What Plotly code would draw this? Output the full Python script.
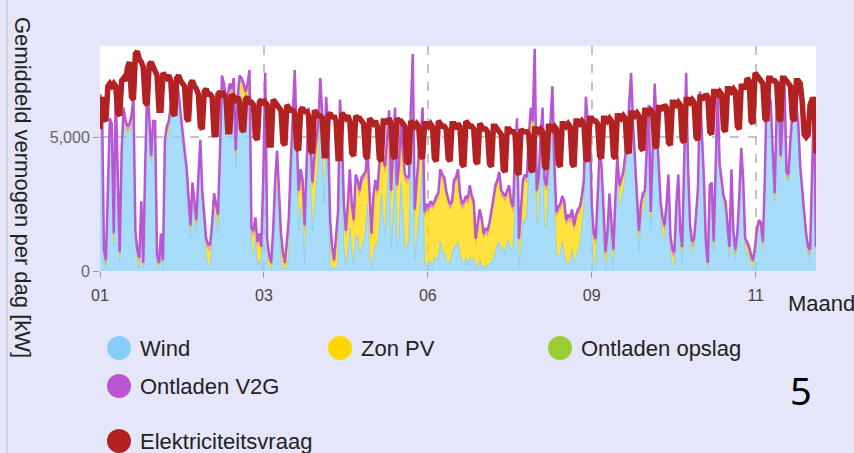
import plotly.graph_objects as go

# ---------------- data (daily averages, kW) ----------------
dagen = list(range(365))

wind = [
    # jan
    6300, 6100, 400, 100, 2700, 5400, 5100, 900, 6400, 3200,
    300, 4200, 5800, 5200, 5100, 5200, 5400, 6200, 1000, 300,
    100, 2300, 100, 3700, 6500, 5400, 4000, 5200, 5300, 200, 100,
    # feb
    900, 100, 4500, 5000, 5100, 5800, 6400, 6500, 6800, 6200,
    5300, 4600, 4100, 3400, 2000, 1200, 2800, 1900, 1400, 3000,
    4500, 2400, 1300, 500, 200, 200, 1100, 2300,
    # mrt
    1900, 1400, 3900, 6800, 6400, 5600, 5900, 6400, 6100, 6700,
    3900, 5800, 6700, 6400, 6300, 6100, 6200, 7000, 800, 600,
    1200, 200, 400, 100, 2800, 6800, 300, 100, 100, 500, 2200,
    # apr
    3100, 1800, 300, 100, 100, 100, 600, 2900, 5000, 6700,
    3700, 1500, 2400, 1800, 300, 2300, 4900, 3400, 1500, 2300,
    3200, 4100, 6100, 4000, 2500, 5100, 3200, 200, 100, 100,
    # mei
    100, 300, 4700, 3000, 900, 200, 600, 1600, 700, 200,
    1300, 1300, 600, 900, 1100, 1500, 2500, 600, 100, 600,
    1000, 900, 1500, 2900, 1900, 1300, 3000, 4300, 800, 2000, 4300,
    # jun
    800, 1300, 3300, 2100, 800, 900, 1100, 4000, 6700, 400,
    1100, 1600, 2500, 4000, 200, 200, 300, 400, 100, 500,
    500, 400, 1100, 700, 700, 400, 300, 300, 600, 900,
    # jul
    900, 1100, 600, 400, 200, 500, 200, 500, 400, 500,
    100, 200, 400, 200, 100, 200, 200, 300, 300, 500,
    700, 1000, 1100, 700, 900, 600, 1100, 1100, 800, 800, 2700,
    # aug
    4300, 100, 800, 1900, 1800, 2100, 3800, 4500, 4200, 7200,
    1800, 2000, 3700, 4700, 1700, 1600, 3000, 4200, 5800, 2500,
    600, 600, 600, 1100, 600, 300, 300, 300, 800, 300, 500,
    # sep
    800, 1000, 1600, 2300, 5800, 4700, 4500, 1400, 200, 100,
    1800, 3700, 3000, 800, 100, 500, 2000, 700, 100, 1900,
    3600, 2400, 2600, 3000, 3500, 4300, 5700, 6800, 4800, 3300,
    # okt
    2100, 700, 1900, 2200, 2400, 4100, 5700, 1500, 3900, 6500,
    4900, 3400, 2000, 1300, 1100, 2000, 3100, 600, 200, 200,
    2000, 3200, 1000, 300, 4100, 7000, 3300, 1200, 600, 800, 1700,
    # nov
    2700, 6400, 4600, 3100, 600, 100, 2800, 3000, 700, 3200,
    6400, 3600, 3100, 2400, 2200, 1200, 500, 3500, 1100, 400,
    1100, 2500, 4300, 3100, 800, 700, 500, 200, 100, 600,
    # dec
    1300, 1600, 1500, 800, 3200, 6700, 6300, 6000, 4200, 2600,
    5700, 6800, 4000, 5500, 6700, 3400, 3300, 4600, 5700, 6600,
    5900, 5200, 3600, 2600, 1900, 1100, 600, 500, 3200, 6200, 600,
]

zon_pv = [
    # jan
    100, 100, 200, 100, 100, 100, 200, 200, 100, 100,
    200, 100, 100, 200, 100, 100, 200, 100, 200, 300,
    200, 100, 100, 100, 100, 200, 100, 200, 100, 200, 100,
    # feb
    300, 200, 200, 200, 300, 200, 200, 300, 200, 200,
    300, 300, 200, 300, 400, 300, 300, 400, 300, 300,
    200, 400, 400, 500, 600, 600, 500, 400,
    # mrt
    400, 500, 400, 300, 400, 600, 500, 400, 500, 300,
    400, 500, 400, 600, 500, 400, 600, 300, 600, 700,
    600, 700, 800, 600, 500, 400, 700, 400, 100, 800, 900,
    # apr
    1200, 1000, 900, 400, 100, 800, 1200, 1000, 800, 600,
    1100, 1300, 1200, 1400, 1200, 1500, 1000, 1400, 1600, 1800,
    1500, 1200, 900, 1300, 1700, 1200, 1600, 1500, 600, 200,
    # mei
    1200, 1700, 1500, 1800, 1400, 1100, 1700, 2000, 1600, 1500,
    2100, 1900, 2200, 2400, 2300, 2000, 1800, 2200, 1100, 2000,
    2200, 1900, 2300, 1800, 2100, 2400, 1800, 1500, 2000, 2300, 1600,
    # jun
    2200, 2500, 2000, 2300, 2600, 2400, 2200, 1800, 1200, 1700,
    2200, 2500, 2300, 1900, 1800, 2100, 1900, 2000, 2200, 1900,
    2100, 2300, 2500, 2700, 2600, 2400, 2200, 2000, 1800, 2300,
    # jul
    2400, 2500, 2100, 1900, 2200, 2100, 2300, 2500, 2200, 1900,
    900, 1400, 1700, 1600, 1100, 1200, 1100, 1300, 1700, 2000,
    2300, 2200, 2400, 2100, 1800, 2000, 1700, 1900, 1600, 1400, 1600,
    # aug
    1200, 900, 1500, 1300, 1600, 1200, 1000, 1400, 1200, 900,
    1000, 1300, 1100, 1200, 1500, 1400, 1000, 1100, 900, 1300,
    1400, 1600, 1700, 1500, 1800, 1400, 1600, 1500, 1300, 1200, 1400,
    # sep
    1300, 1200, 1000, 900, 500, 600, 700, 900, 1000, 900,
    800, 600, 700, 1000, 400, 800, 700, 900, 500, 600,
    500, 600, 700, 500, 600, 400, 300, 400, 500, 400,
    # okt
    500, 600, 400, 500, 400, 300, 300, 500, 400, 300,
    300, 400, 400, 500, 400, 300, 300, 500, 400, 300,
    300, 200, 300, 400, 200, 200, 300, 300, 300, 200, 200,
    # nov
    200, 100, 200, 200, 300, 100, 200, 100, 200, 100,
    100, 200, 100, 200, 200, 200, 200, 100, 200, 200,
    100, 100, 100, 100, 200, 200, 200, 200, 200, 100,
    # dec
    100, 100, 100, 100, 100, 100, 100, 100, 100, 100,
    100, 100, 100, 100, 100, 100, 100, 100, 100, 100,
    100, 100, 100, 100, 100, 100, 100, 100, 100, 100, 100,
]

ontladen_opslag = [0] * 365

ontladen_v2g = [
    # jan
    200, 200, 200, 200, 200, 200, 200, 300, 200, 200,
    200, 200, 200, 200, 200, 200, 200, 200, 300, 200,
    200, 200, 100, 200, 200, 200, 200, 200, 200, 200, 100,
    # feb
    200, 100, 200, 200, 200, 200, 200, 200, 200, 200,
    200, 200, 200, 200, 200, 200, 200, 200, 200, 200,
    200, 200, 200, 200, 200, 200, 200, 200,
    # mrt
    200, 200, 200, 200, 200, 200, 200, 200, 200, 200,
    200, 200, 200, 200, 200, 200, 200, 200, 200, 200,
    200, 200, 200, 200, 200, 200, 200, 100, 100, 200, 200,
    # apr
    200, 200, 200, 200, 100, 200, 200, 200, 200, 200,
    200, 200, 200, 200, 200, 200, 200, 200, 200, 200,
    200, 200, 200, 200, 200, 200, 200, 200, 200, 100,
    # mei
    200, 200, 200, 200, 200, 200, 200, 200, 200, 200,
    200, 200, 200, 200, 200, 200, 200, 200, 200, 200,
    200, 200, 200, 200, 200, 200, 200, 200, 200, 200, 200,
    # jun
    200, 200, 200, 200, 200, 200, 200, 200, 200, 200,
    200, 200, 200, 200, 200, 200, 200, 200, 200, 200,
    200, 200, 200, 200, 200, 200, 200, 200, 200, 200,
    # jul
    200, 200, 200, 200, 200, 200, 200, 200, 200, 200,
    200, 200, 200, 200, 200, 200, 200, 200, 200, 200,
    200, 200, 200, 200, 200, 200, 200, 200, 200, 200, 200,
    # aug
    200, 200, 200, 200, 200, 200, 200, 200, 200, 200,
    200, 200, 200, 200, 200, 200, 200, 200, 200, 200,
    200, 200, 200, 200, 200, 200, 200, 200, 200, 200, 200,
    # sep
    200, 200, 200, 200, 200, 200, 200, 200, 200, 200,
    200, 200, 200, 200, 200, 200, 200, 200, 200, 200,
    200, 200, 200, 200, 200, 200, 200, 200, 200, 200,
    # okt
    200, 200, 200, 200, 200, 200, 200, 200, 200, 200,
    200, 200, 200, 200, 200, 200, 200, 200, 200, 200,
    200, 200, 200, 200, 200, 200, 200, 200, 200, 200, 200,
    # nov
    200, 200, 200, 200, 200, 100, 200, 200, 200, 200,
    200, 200, 200, 200, 200, 200, 200, 200, 200, 200,
    200, 200, 200, 200, 200, 200, 200, 200, 100, 200,
    # dec
    200, 200, 200, 200, 200, 200, 200, 200, 200, 200,
    200, 200, 200, 200, 200, 200, 200, 200, 200, 200,
    200, 200, 200, 200, 200, 200, 200, 200, 200, 200, 200,
]

elektriciteitsvraag = [
    5300, 6500, 5700, 5600, 6900, 7000, 6900,
    7000, 6900, 5900, 5800, 7100, 7200, 7100,
    7600, 7800, 6500, 6400, 8100, 8200, 7900,
    7800, 7600, 6300, 6200, 7700, 7800, 7600,
    7500, 7300, 6000, 6000, 7400, 7300, 7200,
    7300, 7100, 5900, 5800, 7200, 7300, 7100,
    7000, 6900, 5700, 5600, 7000, 7100, 6900,
    6800, 6600, 5400, 5300, 6700, 6800, 6600,
    6600, 6500, 5100, 5100, 6600, 6700, 6500,
    6600, 6500, 5200, 5200, 6600, 6500, 6400,
    6500, 6300, 5300, 5200, 6400, 6500, 6300,
    6300, 6200, 5000, 4900, 6300, 6400, 6200,
    6300, 6200, 4700, 4700, 6400, 6300, 6200,
    6100, 6000, 4800, 4700, 6200, 6100, 6000,
    6000, 5900, 4600, 4500, 6000, 6100, 5900,
    6000, 5800, 4500, 4400, 6000, 5900, 5800,
    5800, 5700, 4300, 4300, 5800, 5900, 5700,
    5800, 5600, 4200, 4200, 5900, 5800, 5700,
    5800, 5600, 4400, 4300, 5800, 5700, 5700,
    5600, 5500, 4300, 4200, 5700, 5600, 5500,
    5600, 5400, 4200, 4100, 5600, 5600, 5500,
    5700, 5500, 4300, 4200, 5700, 5600, 5600,
    5500, 5400, 4100, 4000, 5600, 5500, 5400,
    5500, 5400, 4300, 4200, 5500, 5500, 5400,
    5500, 5400, 4200, 4100, 5600, 5500, 5400,
    5400, 5300, 4200, 4100, 5500, 5500, 5300,
    5500, 5400, 4000, 3900, 5600, 5500, 5400,
    5400, 5300, 4100, 4000, 5500, 5400, 5300,
    5300, 5200, 4000, 3900, 5400, 5400, 5300,
    5200, 5100, 3800, 3700, 5300, 5300, 5200,
    5200, 5100, 3700, 3600, 5300, 5200, 5200,
    5200, 5100, 3800, 3700, 5300, 5300, 5200,
    5300, 5200, 3900, 3800, 5400, 5400, 5300,
    5400, 5300, 4000, 3900, 5500, 5500, 5400,
    5500, 5400, 4000, 3900, 5600, 5600, 5500,
    5600, 5500, 4200, 4100, 5700, 5700, 5600,
    5600, 5500, 4300, 4200, 5700, 5700, 5600,
    5700, 5600, 4300, 4200, 5800, 5800, 5700,
    5800, 5700, 4500, 4400, 5900, 5900, 5800,
    5900, 5800, 4600, 4500, 6000, 6000, 5900,
    6000, 5900, 4700, 4600, 6100, 6100, 6000,
    6200, 6100, 4800, 4700, 6300, 6300, 6200,
    6300, 6200, 4900, 4800, 6400, 6400, 6300,
    6400, 6300, 5000, 4900, 6500, 6500, 6400,
    6600, 6500, 5200, 5100, 6700, 6700, 6600,
    6700, 6600, 5300, 5200, 6800, 6800, 6700,
    6800, 6700, 5400, 5300, 6900, 6900, 6800,
    7200, 7100, 5600, 5500, 7400, 7300, 7200,
    7100, 7000, 5700, 5600, 7200, 7200, 7100,
    7100, 7000, 5700, 5600, 7200, 7200, 7100,
    7000, 6900, 5700, 5600, 7100, 7100, 7000,
    6300, 5100, 5000, 5100, 6200, 6400, 6400,
    4400,
]

maand_tick_uren = [0, 2000, 4000, 6000, 8000]
maand_labels = ["01", "03", "06", "09", "11"]
y_ticks = [0, 5000]

legend_namen = ["Wind", "Zon PV", "Ontladen opslag", "Ontladen V2G", "Elektriciteitsvraag"]
legend_kleuren = ["#87CEFA", "#FFD700", "#9ACD32", "#BA55D3", "#B22222"]

# ---------------- figure ----------------
W, H = 854, 453
L, R, T, B = 100, 38, 46, 182
PW, PH = W - L - R, H - T - B


def px(x):
    return (x - L) / PW


def py(y):
    return (H - B - y) / PH


fig = go.Figure()

fig.add_trace(go.Scatter(x=dagen, y=wind, name="Wind", stackgroup="aanbod", mode="lines",
                         line=dict(color="rgba(135,206,250,0.9)", width=1),
                         fillcolor="rgba(135,206,250,0.72)"))
fig.add_trace(go.Scatter(x=dagen, y=zon_pv, name="Zon PV", stackgroup="aanbod", mode="lines",
                         line=dict(color="rgba(255,215,0,0.9)", width=1),
                         fillcolor="rgba(255,215,0,0.75)"))
fig.add_trace(go.Scatter(x=dagen, y=ontladen_opslag, name="Ontladen opslag", stackgroup="aanbod",
                         mode="lines", line=dict(color="#9ACD32", width=0),
                         fillcolor="rgba(154,205,50,0.7)"))
fig.add_trace(go.Scatter(x=dagen, y=ontladen_v2g, name="Ontladen V2G", stackgroup="aanbod",
                         mode="lines", line=dict(color="#BA55D3", width=2.5),
                         fillcolor="rgba(186,85,211,0.55)"))
fig.add_trace(go.Scatter(x=dagen, y=elektriciteitsvraag, name="Elektriciteitsvraag", mode="lines",
                         line=dict(color="#B22222", width=5.5)))

fig.update_layout(
    width=W, height=H,
    margin=dict(l=L, r=R, t=T, b=B, autoexpand=False),
    paper_bgcolor="#E6E6FA",
    plot_bgcolor="white",
    showlegend=False,
    font=dict(family="Liberation Sans, Arial, sans-serif", color="#222"),
)

fig.update_xaxes(
    range=[0, 364],
    tickvals=[u / 24 for u in maand_tick_uren],
    ticktext=maand_labels,
    ticks="outside", ticklen=6, tickcolor="#999",
    ticklabelstandoff=4,
    tickfont=dict(size=16, color="#444"),
    showgrid=True, gridcolor="#c4c4c4", griddash="dash", gridwidth=1.5,
    zeroline=False, showline=False,
)
fig.update_yaxes(
    range=[0, 8400],
    tickvals=y_ticks,
    tickformat=",",
    ticks="outside", ticklen=6, tickcolor="#999",
    tickfont=dict(size=16, color="#666"),
    showgrid=True, gridcolor="#c4c4c4", griddash="dash", gridwidth=1.5,
    zeroline=False, showline=False,
)

annotations = []
shapes = []

# left thin border line
shapes.append(dict(type="line", xref="paper", yref="paper",
                   x0=px(7), x1=px(7), y0=py(0), y1=py(H),
                   line=dict(color="#c8c8d4", width=1.5)))

# y-axis title (rotated clockwise)
annotations.append(dict(text="Gemiddeld vermogen per dag [kW]", xref="paper", yref="paper",
                        x=px(23), y=py(187), textangle=90, showarrow=False,
                        xanchor="center", yanchor="middle",
                        font=dict(size=22, color="#222")))
# x-axis title
annotations.append(dict(text="Maand", xref="paper", yref="paper",
                        x=px(786), y=py(303), showarrow=False,
                        xanchor="left", yanchor="middle",
                        font=dict(size=22, color="#222")))

# manual legend
legend_pos = [(119, 348), (340, 348), (560, 348), (119, 386), (119, 441)]
for naam, kleur, (cx, cy) in zip(legend_namen, legend_kleuren, legend_pos):
    r = 12
    shapes.append(dict(type="circle", xref="paper", yref="paper",
                       x0=px(cx - r), x1=px(cx + r), y0=py(cy + r), y1=py(cy - r),
                       fillcolor=kleur, line=dict(width=0)))
    annotations.append(dict(text=naam, xref="paper", yref="paper",
                            x=px(cx + 19), y=py(cy), showarrow=False,
                            xanchor="left", yanchor="middle",
                            font=dict(size=22, color="#222")))

# slide number
annotations.append(dict(text="5", xref="paper", yref="paper",
                        x=px(801), y=py(390), showarrow=False,
                        xanchor="center", yanchor="middle",
                        font=dict(size=38, color="#000", family="Noto Sans, Open Sans, sans-serif")))

fig.update_layout(annotations=annotations, shapes=shapes)

fig.write_html("out.html", config={"displayModeBar": False},
               post_script="document.body.style.margin='0';document.body.style.overflow='hidden';")
